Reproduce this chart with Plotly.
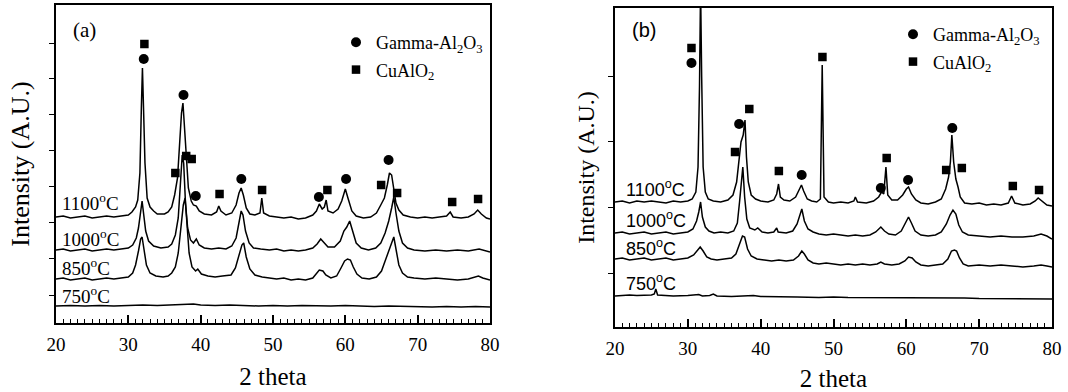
import plotly.graph_objects as go

# ---------------- Panel (a) XRD patterns: (2theta, intensity A.U.) ----------------
a_1100 = [(20,106),(21,107),(22,105),(23,106),(24,107),(25,105),(26,106),(27,107),(28,106),(29,107),(30,108),
          (30.5,111),(31.0,116),(31.3,123),(31.6,150),(31.8,215),(31.95,255),(32.1,215),(32.3,160),(32.6,125),
          (33.0,116),(33.5,112),(34,109),(35,109),(35.5,111),(36.0,116),(36.4,128),(36.8,145),(37.1,180),
          (37.35,210),(37.55,220),(37.8,190),(38.0,160),(38.3,135),(38.7,122),(39.0,118),(39.4,117),(39.8,112),
          (40.5,109),(41.5,108),(42.2,111),(42.5,117),(42.8,112),(43.5,108),(44.3,110),(44.9,118),(45.3,130),
          (45.6,135),(45.9,128),(46.3,115),(46.8,109),(47.5,108),(48.2,110),(48.45,125),(48.7,110),(49.5,107),
          (50.5,106),(51.5,105),(52.5,106),(53.5,104),(54.5,105),(55.5,108),(56.0,112),(56.4,119),(56.8,114),
          (57.1,116),(57.35,123),(57.6,112),(58.3,110),(59.0,114),(59.5,122),(60.0,134),(60.4,124),(60.9,112),
          (61.5,107),(62.5,105),(63.5,106),(64.3,110),(64.9,118),(65.4,125),(65.8,138),(66.1,150),(66.4,148),
          (66.7,135),(67.0,120),(67.4,113),(68.0,108),(69,106),(70,105),(71,106),(72,105),(73,106),(74,107),
          (74.5,111),(74.9,106),(76,105),(77,106),(77.8,109),(78.3,113),(78.8,109),(79.5,105),(80,104)]
a_1000 = [(20,73),(21,74),(22,72),(23,73),(24,74),(25,72),(26,73),(27,74),(28,73),(29,74),(30,75),(30.6,78),
          (31.1,85),(31.4,95),(31.7,115),(31.9,122),(32.1,110),(32.4,92),(32.8,82),(33.5,77),(34.5,75),(35.5,76),
          (36.0,79),(36.5,88),(36.9,105),(37.2,140),(37.45,168),(37.65,160),(37.9,120),(38.2,95),(38.6,83),
          (39.0,80),(39.4,84),(39.8,78),(40.5,75),(41.5,74),(42.5,75),(43.5,74),(44.3,77),(44.9,85),(45.3,100),
          (45.6,112),(45.85,108),(46.2,92),(46.7,80),(47.3,75),(48.3,74),(49.5,73),(50.5,74),(51.5,72),(52.5,73),
          (53.5,72),(54.5,73),(55.5,75),(56.1,79),(56.6,84),(57.1,80),(57.6,76),(58.5,76),(59.3,82),(59.8,92),
          (60.2,96),(60.6,102),(61.0,92),(61.5,80),(62.2,75),(63.2,73),(64.2,75),(64.9,80),(65.5,90),(66.0,102),
          (66.4,115),(66.7,126),(67.0,110),(67.4,92),(67.9,80),(68.6,75),(69.5,73),(71,72),(72.5,73),(74,72),
          (75.5,73),(77,72),(78.5,74),(80,71)]
a_850 = [(20,44),(21,45),(22,43),(23,44),(24,45),(25,43),(26,44),(27,45),(28,44),(29,45),(30,46),(30.6,50),
         (31.0,58),(31.4,72),(31.7,84),(31.9,86),(32.2,72),(32.5,58),(33.0,50),(33.8,47),(34.8,46),(35.5,47),
         (36.0,50),(36.5,56),(36.9,70),(37.3,95),(37.6,118),(37.85,125),(38.1,100),(38.4,70),(38.8,56),(39.3,52),
         (39.6,54),(40.1,49),(41,47),(42,46),(43,47),(44.2,48),(44.8,55),(45.3,68),(45.7,78),(45.95,80),(46.3,66),
         (46.8,54),(47.5,48),(48.5,46),(49.5,45),(50.5,44),(51.5,45),(52.5,43),(53.5,44),(54.5,43),(55.5,45),
         (56.0,49),(56.4,53),(56.9,52),(57.3,48),(58.0,45),(58.8,47),(59.4,55),(59.9,62),(60.3,64),(60.7,63),
         (61.1,56),(61.6,49),(62.3,45),(63.3,44),(64.3,46),(65.0,52),(65.5,62),(66.0,72),(66.4,82),(66.7,86),
         (67.0,74),(67.4,58),(67.9,50),(68.6,46),(69.5,45),(71,44),(72.5,45),(74,44),(75.5,43),(77,44),(77.8,46),
         (78.4,47),(79,45),(80,43)]
a_750 = [(20,17),(22,17.5),(24,17),(26,17.5),(28,17),(30,17.5),(32,18),(34,17.5),(36,18),(38,18.5),(39,19),
         (40,18),(42,17.5),(44,18),(46,17.5),(48,17),(50,17.5),(52,17),(54,17.5),(56,17),(58,17),(60,17.5),
         (62,17),(64,16.5),(66,17),(68,16.5),(70,16.5),(72,16),(74,16.5),(76,16),(78,16.5),(80,16)]

# phase markers, panel (a)
gamma_a_x = [32.13, 37.63, 39.32, 45.62, 56.34, 60.10, 65.98]
gamma_a_y = [264, 228, 127, 144, 126, 144, 163]
cualo2_a_x = [32.22, 36.50, 38.00, 38.76, 42.61, 48.49, 57.52, 64.95, 67.16, 74.77, 78.35]
cualo2_a_y = [279, 150, 167, 164, 129, 133, 133, 138, 130, 121, 124]

# ---------------- Panel (b) XRD patterns ----------------
b_1100 = [(20,125),(21,126),(22,124),(23,126),(24,125),(25,126),(26,125),(27,124),(28,126),(29,125),(30,126),
          (30.6,128),(31.1,135),(31.4,160),(31.6,240),(31.75,340),(31.9,250),(32.1,160),(32.4,135),(32.8,128),
          (33.5,126),(34.5,125),(35.5,127),(36.2,132),(36.7,145),(37.0,165),(37.3,185),(37.6,192),(37.85,207),
          (38.05,170),(38.3,145),(38.7,132),(39.3,128),(40,126),(41,125),(41.8,127),(42.2,133),(42.45,143),
          (42.7,130),(43.2,127),(44,126),(44.8,130),(45.3,138),(45.6,142),(45.9,136),(46.4,128),(47,126),
          (47.7,125),(48.2,128),(48.45,262),(48.7,130),(49.3,125),(50,124),(51,125),(52,124),(52.8,126),
          (53.0,130),(53.3,125),(54.5,124),(55.5,126),(56.2,130),(56.6,135),(56.9,133),(57.2,160),(57.45,132),
          (58,127),(58.8,127),(59.5,132),(60.0,138),(60.3,140),(60.7,133),(61.3,127),(62,124),(63,123),(64,125),
          (64.8,128),(65.4,138),(65.8,150),(66.05,165),(66.25,192),(66.5,165),(66.8,148),(67.1,140),(67.4,130),
          (68,124),(69,123),(70,124),(71,122),(72,123),(73,122),(74,124),(74.45,131),(74.9,124),(76,122),(77,123),
          (77.7,126),(78.1,129),(78.6,126),(79.3,122),(80,121)]
b_1000 = [(20,94),(21,95),(22,93),(23,94),(24,95),(25,93),(26,94),(27,95),(28,93),(29,94),(30,95),(30.7,98),
          (31.2,106),(31.5,115),(31.75,125),(32.0,110),(32.4,100),(32.9,96),(33.6,94),(34.5,95),(35.5,94),
          (36.3,96),(36.8,104),(37.1,125),(37.35,150),(37.55,160),(37.8,130),(38.1,108),(38.5,99),(39.2,97),
          (39.6,99),(40.2,95),(41,94),(41.8,95),(42.2,99),(42.4,95),(43.5,94),(44.4,96),(45.0,103),(45.4,112),
          (45.65,118),(46.0,106),(46.5,98),(47.2,95),(48,93),(49,92),(50,93),(51,92),(52,91),(53,92),(54,91),
          (55,92),(55.8,95),(56.5,100),(57.0,96),(57.6,93),(58.5,92),(59.3,96),(59.9,104),(60.3,110),(60.7,104),
          (61.2,96),(62,92),(63,91),(64,92),(64.8,95),(65.5,103),(66.0,112),(66.4,117),(66.8,113),(67.2,102),
          (67.7,95),(68.5,92),(70,91),(71.5,90),(73,91),(74.5,90),(76,90),(77.5,91),(78.5,93),(79.3,91),(80,88)]
b_850 = [(20,68),(21,69),(22,67),(23,68),(24,69),(25,67),(26,68),(27,69),(28,67),(29,68),(30,69),(30.8,72),
         (31.3,77),(31.7,80),(32.1,76),(32.6,70),(33.2,68),(34,67),(35,68),(36,69),(36.6,73),(37.1,82),(37.5,91),
         (37.8,90),(38.2,78),(38.7,71),(39.5,68),(40.5,67),(41.5,66),(42.5,67),(43.5,66),(44.5,67),(45.2,71),
         (45.65,76),(46.0,73),(46.5,67),(47.2,64),(48,63),(49,64),(50,63),(51,62),(52,63),(53,62),(54,63),(55,62),
         (56,63),(56.5,65),(57,63),(58,62),(59,63),(59.8,66),(60.3,70),(60.8,69),(61.3,65),(62,62),(63,61),
         (64,62),(65,63),(65.7,68),(66.2,76),(66.6,77),(66.9,76),(67.3,69),(67.8,63),(68.5,61),(70,62),(71.5,61),
         (73,62),(74.5,61),(76,60),(77.5,61),(78.5,62),(79.3,61),(80,60)]
b_750 = [(20,31),(21,31.5),(22,32),(23,31.5),(24,32),(25,32),(25.4,33),(25.6,38),(25.85,32),(26.5,31.5),(28,31),
         (30,31.5),(31.5,32.5),(32,31),(33,31.5),(33.5,33),(34,31),(36,30.5),(38,31),(39,31.5),(40,30.5),(42,30),
         (45,30),(48,29.5),(50,30),(52,29.5),(55,29.5),(57,29.5),(60,29),(62,29),(65,29),(68,29),(70,28.5),
         (72,28.5),(75,28.5),(78,28.5),(80,28)]

gamma_b_x = [30.5, 37.04, 45.63, 56.5, 60.24, 66.31]
gamma_b_y = [264, 203, 152, 139, 147, 199]
cualo2_b_x = [30.5, 36.48, 38.44, 42.5, 48.48, 57.3, 65.47, 67.62, 74.62, 78.22]
cualo2_b_y = [279, 175, 218, 156, 270, 169, 157, 159, 141, 137]

temp_labels = ["1100<sup>o</sup>C", "1000<sup>o</sup>C", "850<sup>o</sup>C", "750<sup>o</sup>C"]
x_ticks = [20, 30, 40, 50, 60, 70, 80]
gamma_name = "Gamma-Al<sub>2</sub>O<sub>3</sub>"
cualo2_name = "CuAlO<sub>2</sub>"

SERIF = "Liberation Serif"
SANS = "Liberation Sans"
W, H = 1068, 392

fig = go.Figure()

def add_curves(curves, xa, ya):
    for c in curves:
        fig.add_trace(go.Scatter(x=[p[0] for p in c], y=[p[1] for p in c], mode="lines",
                                 line=dict(color="black", width=1.5), xaxis=xa, yaxis=ya,
                                 showlegend=False, hoverinfo="skip"))

add_curves([a_1100, a_1000, a_850, a_750], "x", "y")
add_curves([b_1100, b_1000, b_850, b_750], "x2", "y2")

def add_markers(gx, gy, cx, cy, xa, ya, leg):
    fig.add_trace(go.Scatter(x=gx, y=gy, mode="markers", name=gamma_name,
                             marker=dict(symbol="circle", size=10, color="black"),
                             xaxis=xa, yaxis=ya, legend=leg, legendgroup=leg + "g"))
    fig.add_trace(go.Scatter(x=cx, y=cy, mode="markers", name=cualo2_name,
                             marker=dict(symbol="square", size=8.5, color="black"),
                             xaxis=xa, yaxis=ya, legend=leg, legendgroup=leg + "c"))

add_markers(gamma_a_x, gamma_a_y, cualo2_a_x, cualo2_a_y, "x", "y", "legend")
add_markers(gamma_b_x, gamma_b_y, cualo2_b_x, cualo2_b_y, "x2", "y2", "legend2")

def px_x(p): return p / W
def px_y(p): return 1 - p / H

xcommon = dict(range=[20, 80], tickvals=x_ticks, ticks="inside", ticklen=8, tickwidth=1.5,
               tickcolor="black", showline=True, linecolor="black", linewidth=1.5, mirror=True,
               showgrid=False, zeroline=False, automargin=False, ticklabelstandoff=3,
               minor=dict(ticks="inside", ticklen=4, tickwidth=1, tickcolor="black", dtick=1, showgrid=False),
               tickfont=dict(family=SERIF, size=19, color="black"),
               title=dict(text="2 theta", font=dict(family=SERIF, size=25, color="black"), standoff=14))
ycommon = dict(ticks="outside", ticklen=5, tickwidth=1.3, tickcolor="black", showticklabels=False,
               showline=True, linecolor="black", linewidth=1.5, mirror=True, showgrid=False, zeroline=False,
               automargin=False)

fig.update_layout(
    width=W, height=H, margin=dict(l=0, r=0, t=0, b=0),
    paper_bgcolor="white", plot_bgcolor="white",
    xaxis=dict(domain=[px_x(56), px_x(490)], anchor="y", **xcommon),
    yaxis=dict(domain=[px_y(323), px_y(5)], anchor="x", range=[0, 318],
               tickvals=[28, 65, 101, 137, 173, 209, 245, 280],
               title=dict(text="Intensity (A.U.)", font=dict(family=SERIF, size=26, color="black"), standoff=12),
               **ycommon),
    xaxis2=dict(domain=[px_x(615), px_x(1052)], anchor="y2", **xcommon),
    yaxis2=dict(domain=[px_y(327), px_y(8)], anchor="x2", range=[0, 319],
                tickvals=[54, 120, 186, 251],
                title=dict(text="Intensity (A.U.)", font=dict(family=SERIF, size=24, color="black"), standoff=7),
                **ycommon),
    legend=dict(x=px_x(336), y=px_y(24), xanchor="left", yanchor="top", bgcolor="rgba(0,0,0,0)",
                font=dict(family=SERIF, size=18, color="black"), itemwidth=30, tracegroupgap=1),
    legend2=dict(x=px_x(893), y=px_y(16), xanchor="left", yanchor="top", bgcolor="rgba(0,0,0,0)",
                 font=dict(family=SERIF, size=18, color="black"), itemwidth=30, tracegroupgap=1),
)

# temperature labels and panel letters
ya_lab = [121, 85, 56, 28]
yb_lab = [139, 108, 80, 45]
for t, yv in zip(temp_labels, ya_lab):
    fig.add_annotation(x=20.6, y=yv, xref="x", yref="y", text=t, showarrow=False, xanchor="left",
                       yanchor="middle", font=dict(family=SERIF, size=19, color="black"))
for t, yv in zip(temp_labels, yb_lab):
    fig.add_annotation(x=21.3, y=yv, xref="x2", yref="y2", text=t, showarrow=False, xanchor="left",
                       yanchor="middle", font=dict(family=SANS, size=18, color="black"))
fig.add_annotation(x=24.0, y=293, xref="x", yref="y", text="(a)", showarrow=False,
                   font=dict(family=SERIF, size=21, color="black"))
fig.add_annotation(x=24.0, y=297, xref="x2", yref="y2", text="(b)", showarrow=False,
                   font=dict(family=SANS, size=20, color="black"))

# remove the page's default 8px body margin so the figure sits at the window origin
fig.write_html("out.html", config={"displayModeBar": False},
               post_script="document.body.style.margin='0';")
